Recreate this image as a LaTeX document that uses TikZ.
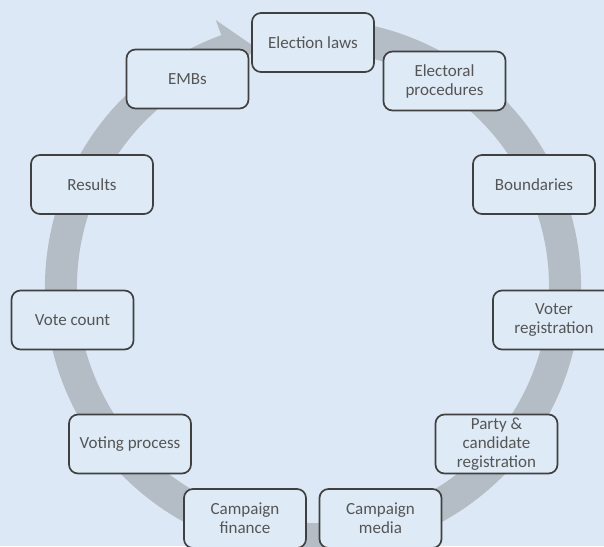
\documentclass[tikz,border=0pt]{standalone}
\usepackage{fontspec}
\setmainfont{Carlito}
\usetikzlibrary{calc}
\definecolor{bgblue}{HTML}{DCE8F5}
\definecolor{boxfill}{HTML}{DEEAF6}
\definecolor{boxline}{HTML}{404040}
\definecolor{txtgray}{HTML}{555555}
\definecolor{ringgray}{HTML}{B4BCC6}
\tikzset{
  stagebox/.style={draw=boxline, line width=1.7pt, fill=boxfill, rounded corners=9pt,
    minimum width=122pt, minimum height=59pt, align=center, text=txtgray,
    font=\fontsize{17}{19}\selectfont, inner sep=2pt},
  ringfill/.style={fill=ringgray}
}
\begin{document}
\begin{tikzpicture}[x=1pt,y=1pt]
\fill[bgblue] (0,0) rectangle (604,546);
\useasboundingbox (0,0) rectangle (604,546);
\coordinate (C) at (313,259);
% circular arrow ring
\fill[ringfill] ($(C)+(78:268)$) arc[start angle=78, end angle=-250, radius=268]
  -- ($(C)+(-250:284)$) -- ($(C)+(-257:244)$) -- ($(C)+(-250:236)$)
  arc[start angle=-250, end angle=78, radius=236] -- cycle;
% boxes
\node[stagebox] (laws) at (313,503.5) {Election laws};
\node[stagebox] (proc) at (444.5,465) {Electoral\\procedures};
\node[stagebox] (bound) at (534,361.5) {Boundaries};
\node[stagebox] (voter) at (554,226) {Voter\\registration};
\node[stagebox] (party) at (496.5,102) {Party \&\\candidate\\registration};
\node[stagebox] (media) at (380.5,27.5) {Campaign\\media};
\node[stagebox] (finance) at (245,27.5) {Campaign\\finance};
\node[stagebox] (voting) at (130,102) {Voting process};
\node[stagebox] (count) at (72.5,226) {Vote count};
\node[stagebox] (results) at (92,361.5) {Results};
\node[stagebox] (embs) at (187.5,467) {EMBs};
\end{tikzpicture}
\end{document}
